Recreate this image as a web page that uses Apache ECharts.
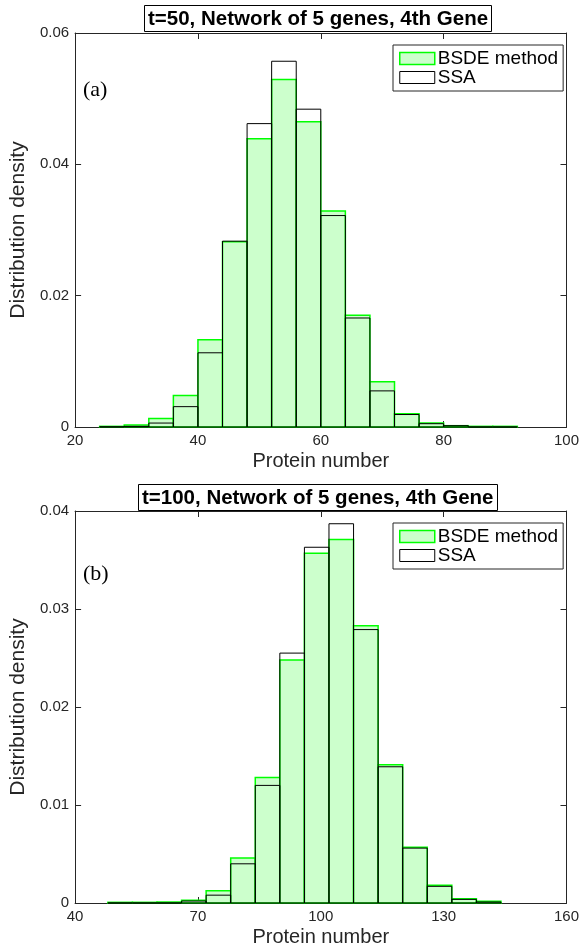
<!DOCTYPE html>
<html>
<head>
<meta charset="utf-8">
<script src="https://cdn.jsdelivr.net/npm/echarts@6/dist/echarts.min.js"></script>
<style>html,body{margin:0;padding:0;background:#fff}#c{width:582px;height:948px}</style>
</head>
<body>
<div id="c"></div>
<script>
// ---- Panel (a): t=50, bin width 4 ----
var binStartA = [24,28,32,36,40,44,48,52,56,60,64,68,72,76,80,84,88];
var binWidthA = 4;
var bsdeA = [0.0001,0.0003,0.0013,0.0048,0.0133,0.0282,0.0439,0.0529,0.0465,0.0329,0.0170,0.0069,0.0020,0.0006,0.0002,0.0001,0.0001];
var ssaA  = [0.00003,0.0001,0.0006,0.0031,0.0113,0.0283,0.0462,0.0557,0.0484,0.0322,0.0166,0.0055,0.0019,0.0005,0.0002,0,0];
var xTicksA = [20,40,60,80,100];
var yTicksA = [0,0.02,0.04,0.06];

// ---- Panel (b): t=100, bin width 6 ----
var binStartB = [48,54,60,66,72,78,84,90,96,102,108,114,120,126,132,138];
var binWidthB = 6;
var bsdeB = [0.00007,0.00007,0.0001,0.00027,0.00125,0.0046,0.0128,0.0248,0.0357,0.0371,0.0283,0.0141,0.0057,0.0018,0.00044,0.00017];
var ssaB  = [0,0,0,0.0002,0.0008,0.0040,0.0120,0.0255,0.0363,0.0387,0.0279,0.0139,0.0056,0.0017,0.00037,0.0001];
var xTicksB = [40,70,100,130,160];
var yTicksB = [0,0.01,0.02,0.03,0.04];

var titleA = 't=50, Network of 5 genes, 4th Gene';
var titleB = 't=100, Network of 5 genes, 4th Gene';

function toData(starts, w, vals){
  return starts.map(function(s,i){ return [s, s+w, vals[i]]; });
}
var FONT = 'Liberation Sans, Arial, Helvetica, sans-serif';
var AX = '#262626';
var GREEN_FILL = '#ccffcc', GREEN_EDGE = '#00ff00';

function renderGreen(params, api){
  var p0 = api.coord([api.value(0), api.value(2)]);
  var p1 = api.coord([api.value(1), 0]);
  return {type:'rect', shape:{x:p0[0], y:p0[1], width:p1[0]-p0[0], height:p1[1]-p0[1]},
    style:{fill:GREEN_FILL, stroke:GREEN_EDGE, lineWidth:1.5}};
}
function renderBlack(params, api){
  var p0 = api.coord([api.value(0), api.value(2)]);
  var p1 = api.coord([api.value(1), 0]);
  return {type:'rect', shape:{x:p0[0], y:p0[1], width:p1[0]-p0[0], height:p1[1]-p0[1]},
    style:{fill:'none', stroke:'#000', lineWidth:1}};
}

function xAx(grid, ticks, pos, label, name){
  return {
    type:'value', gridIndex:grid, position:pos,
    min:ticks[0], max:ticks[ticks.length-1], interval:ticks[1]-ticks[0],
    splitLine:{show:false},
    axisLine:{show:true, onZero:false, lineStyle:{color:AX, width:1}},
    axisTick:{show:true, inside:true, length:6, lineStyle:{color:AX}},
    axisLabel:{show:label, color:AX, fontSize:15, fontFamily:FONT, margin:6},
    name: name || '', nameLocation:'middle', nameGap:24,
    nameTextStyle:{color:AX, fontSize:20, fontFamily:FONT}
  };
}
function yAx(grid, ticks, pos, label, name){
  return {
    type:'value', gridIndex:grid, position:pos,
    min:ticks[0], max:ticks[ticks.length-1], interval:ticks[1]-ticks[0],
    splitLine:{show:false},
    axisLine:{show:true, onZero:false, lineStyle:{color:AX, width:1}},
    axisTick:{show:true, inside:true, length:6, lineStyle:{color:AX}},
    axisLabel:{show:label, color:AX, fontSize:15, fontFamily:FONT, margin:6,
      formatter:function(v){ return v===0 ? '0' : String(+v.toFixed(3)); }},
    name: name || '', nameLocation:'middle', nameGap:41,
    nameTextStyle:{color:AX, fontSize:21, fontFamily:FONT}
  };
}
function legend(top){
  return {
    orient:'vertical', left:393, top:top,
    backgroundColor:'#fff', borderColor:AX, borderWidth:1,
    padding:[4,5,4,6], itemWidth:35, itemHeight:12, itemGap:0,
    selectedMode:false,
    textStyle:{color:'#000', fontSize:19, lineHeight:17, fontFamily:FONT, padding:[0,0,0,-2]},
    data:[
      {name:'BSDE method', icon:'rect', itemStyle:{color:GREEN_FILL, borderColor:GREEN_EDGE, borderWidth:1.5}},
      {name:'SSA', icon:'rect', itemStyle:{color:'#fff', borderColor:'#000', borderWidth:1}}
    ]
  };
}
function mkTitle(text, left, top){
  return {text:text, left:left, top:top, padding:[3,4,2,4],
    borderColor:'#000', borderWidth:1, backgroundColor:'#fff',
    textStyle:{color:'#000', fontSize:20.5, lineHeight:22, fontWeight:'bold', fontFamily:FONT}};
}
function mkLabel(text, left, top){
  return {text:text, left:left, top:top, padding:0,
    textStyle:{color:'#000', fontSize:22, fontWeight:'normal', fontFamily:'Liberation Serif, DejaVu Serif, serif'}};
}

var chart = echarts.init(document.getElementById('c'), null, {renderer:'canvas'});
chart.setOption({
  animation:false,
  backgroundColor:'#fff',
  title:[ mkTitle(titleA, 144, 5), mkTitle(titleB, 138, 484), mkLabel('(a)', 83, 79), mkLabel('(b)', 83, 563) ],
  legend:[ legend(45), legend(523) ],
  grid:[
    {left:70, right:15, top:33, height:394, show:false},
    {left:70, right:15, top:511, height:395, show:false}
  ],
  xAxis:[
    xAx(0, xTicksA, 'bottom', true, 'Protein number'),
    xAx(0, xTicksA, 'top', false),
    xAx(1, xTicksB, 'bottom', true, 'Protein number'),
    xAx(1, xTicksB, 'top', false)
  ],
  yAxis:[
    yAx(0, yTicksA, 'left', true, 'Distribution density'),
    yAx(0, yTicksA, 'right', false),
    yAx(1, yTicksB, 'left', true, 'Distribution density'),
    yAx(1, yTicksB, 'right', false)
  ],
  series:[
    {type:'custom', name:'BSDE method', xAxisIndex:0, yAxisIndex:0, renderItem:renderGreen,
     encode:{x:[0,1], y:2}, itemStyle:{color:GREEN_FILL, borderColor:GREEN_EDGE}, data:toData(binStartA, binWidthA, bsdeA), z:2},
    {type:'custom', name:'SSA', xAxisIndex:0, yAxisIndex:0, renderItem:renderBlack,
     encode:{x:[0,1], y:2}, itemStyle:{color:'#fff', borderColor:'#000'}, data:toData(binStartA, binWidthA, ssaA), z:3},
    {type:'custom', name:'BSDE method', xAxisIndex:2, yAxisIndex:2, renderItem:renderGreen,
     encode:{x:[0,1], y:2}, itemStyle:{color:GREEN_FILL, borderColor:GREEN_EDGE}, data:toData(binStartB, binWidthB, bsdeB), z:2},
    {type:'custom', name:'SSA', xAxisIndex:2, yAxisIndex:2, renderItem:renderBlack,
     encode:{x:[0,1], y:2}, itemStyle:{color:'#fff', borderColor:'#000'}, data:toData(binStartB, binWidthB, ssaB), z:3}
  ]
});
</script>
</body>
</html>
